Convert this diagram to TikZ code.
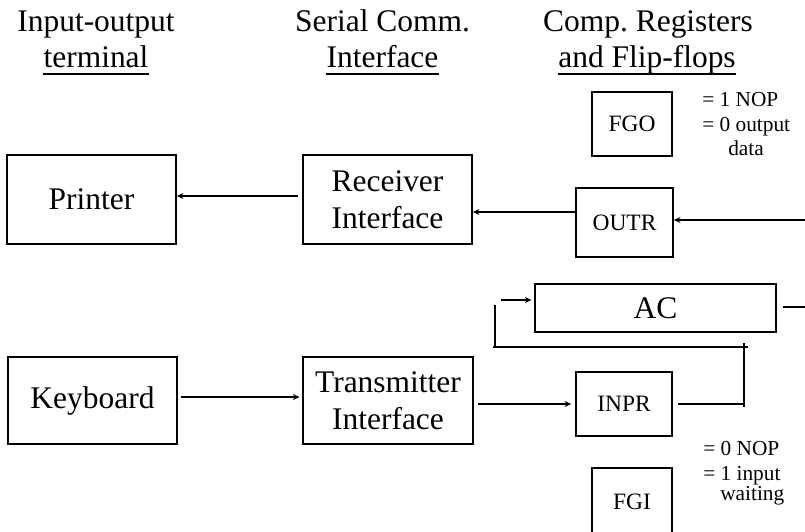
\documentclass[tikz,border=0pt]{standalone}
\usepackage{fontspec}
\setmainfont{Liberation Serif}
\usetikzlibrary{arrows.meta}
\frenchspacing
\begin{document}
\begin{tikzpicture}[x=0.75pt,y=-0.75pt,
  box/.style={draw, line width=1.2pt, inner sep=0pt, align=center},
  bigtxt/.style={font=\fontsize{23.6pt}{27.5pt}\selectfont},
  smalltxt/.style={font=\fontsize{17.6pt}{20pt}\selectfont},
  lbl/.style={font=\fontsize{16pt}{18pt}\selectfont, anchor=base west, inner sep=0pt},
  hdr/.style={font=\fontsize{23.6pt}{27pt}\selectfont, anchor=base, inner sep=0pt},
  conn/.style={line width=1pt, -{Stealth[length=5pt,width=4.5pt]}},
  plain/.style={line width=1pt},
  bus/.style={line width=1.4pt},
  uline/.style={line width=1.5pt}
]
\useasboundingbox (0,0) rectangle (805,531);
\clip (0,0) rectangle (805,531);

% headers
\node[hdr] (h1a) at (96,32) {Input-output};
\node[hdr] (h1b) at (96,68) {terminal};
\node[hdr] (h2a) at (382.5,32) {Serial Comm.};
\node[hdr] (h2b) at (382.5,68) {Interface};
\node[hdr] (h3a) at (648,32) {Comp. Registers};
\node[hdr] (h3b) at (647,68) {and Flip-flops};
\draw[uline] ([yshift=-4.5pt]h1b.base west) -- ([yshift=-4.5pt]h1b.base east);
\draw[uline] ([yshift=-4.5pt]h2b.base west) -- ([yshift=-4.5pt]h2b.base east);
\draw[uline] ([yshift=-4.5pt]h3b.base west) -- ([yshift=-4.5pt]h3b.base east);

% boxes
\node[box, bigtxt, minimum width=126.75pt, minimum height=66.75pt] (prt) at (91.5,199.5) {Printer};
\node[box, bigtxt, minimum width=126.75pt, minimum height=66.75pt] (rec) at (387.5,199.5) {Receiver\\Interface};
\node[box, bigtxt, minimum width=126.75pt, minimum height=65.25pt] (kbd) at (92.5,400.5) {Keyboard};
\node[box, bigtxt, minimum width=127.5pt, minimum height=65.25pt] (trm) at (388,400.5) {Transmitter\\Interface};
\node[box, smalltxt, minimum width=72.75pt, minimum height=51.75pt] (outr) at (624.5,222.5) {OUTR};
\node[box, smalltxt, minimum width=60pt, minimum height=48pt] (fgo) at (632,124) {FGO};
\node[box, smalltxt, minimum width=72pt, minimum height=48pt] (inpr) at (624,404) {INPR};
\node[box, smalltxt, minimum width=60pt, minimum height=51pt] (fgi) at (632,502) {FGI};
\node[box, bigtxt, minimum width=180.75pt, minimum height=36pt] (ac) at (655.5,308) {AC};

% labels
\node[lbl] (l1) at (702,107) {= 1 NOP};
\node[lbl] (l2) at (702,132) {= 0 output};
\node[lbl] (l3) at (728,156) {data};
\node[lbl] (l4) at (703,455) {= 0 NOP};
\node[lbl] (l5) at (703,480) {= 1 input};
\node[lbl] (l6) at (720,500) {waiting};

% connectors
\coordinate (inR) at (805,220);
\coordinate (acR) at (805,307);
\draw[conn] (inR) -- (inR -| outr.east);
\coordinate (o1) at ([yshift=7.9pt]outr.west);
\draw[conn] (o1) -- (o1 -| rec.east);
\coordinate (r1) at ([yshift=2.6pt]rec.west);
\draw[conn, shorten <=3pt] (r1) -- (r1 -| prt.east);
\coordinate (k1) at ([yshift=2.6pt]kbd.east);
\draw[conn, shorten <=2.5pt, shorten >=2pt] (k1) -- (k1 -| trm.west);
\draw[conn, shorten <=3pt, shorten >=3pt] (trm.east |- inpr.west) -- (inpr.west);

% bus
\coordinate (b1) at (744,404);
\draw[plain, shorten <=4pt] (inpr.east) -- (b1);
\coordinate (b2a) at (744,407);
\coordinate (b2) at (744,343);
\draw[bus] (b2a) -- (b2);
\coordinate (b3) at (748,347);
\coordinate (b4) at (493,347);
\draw[bus] (b3) -- (b4);
\coordinate (b5) at (495,347);
\coordinate (b6) at (495,305);
\draw[bus] (b5) -- (b6);
\coordinate (b7) at (501,300);
\draw[conn, shorten >=2pt] (b7) -- (b7 -| ac.west);
\draw[plain, shorten <=4.5pt] (ac.east |- acR) -- (acR);
\end{tikzpicture}
\end{document}
